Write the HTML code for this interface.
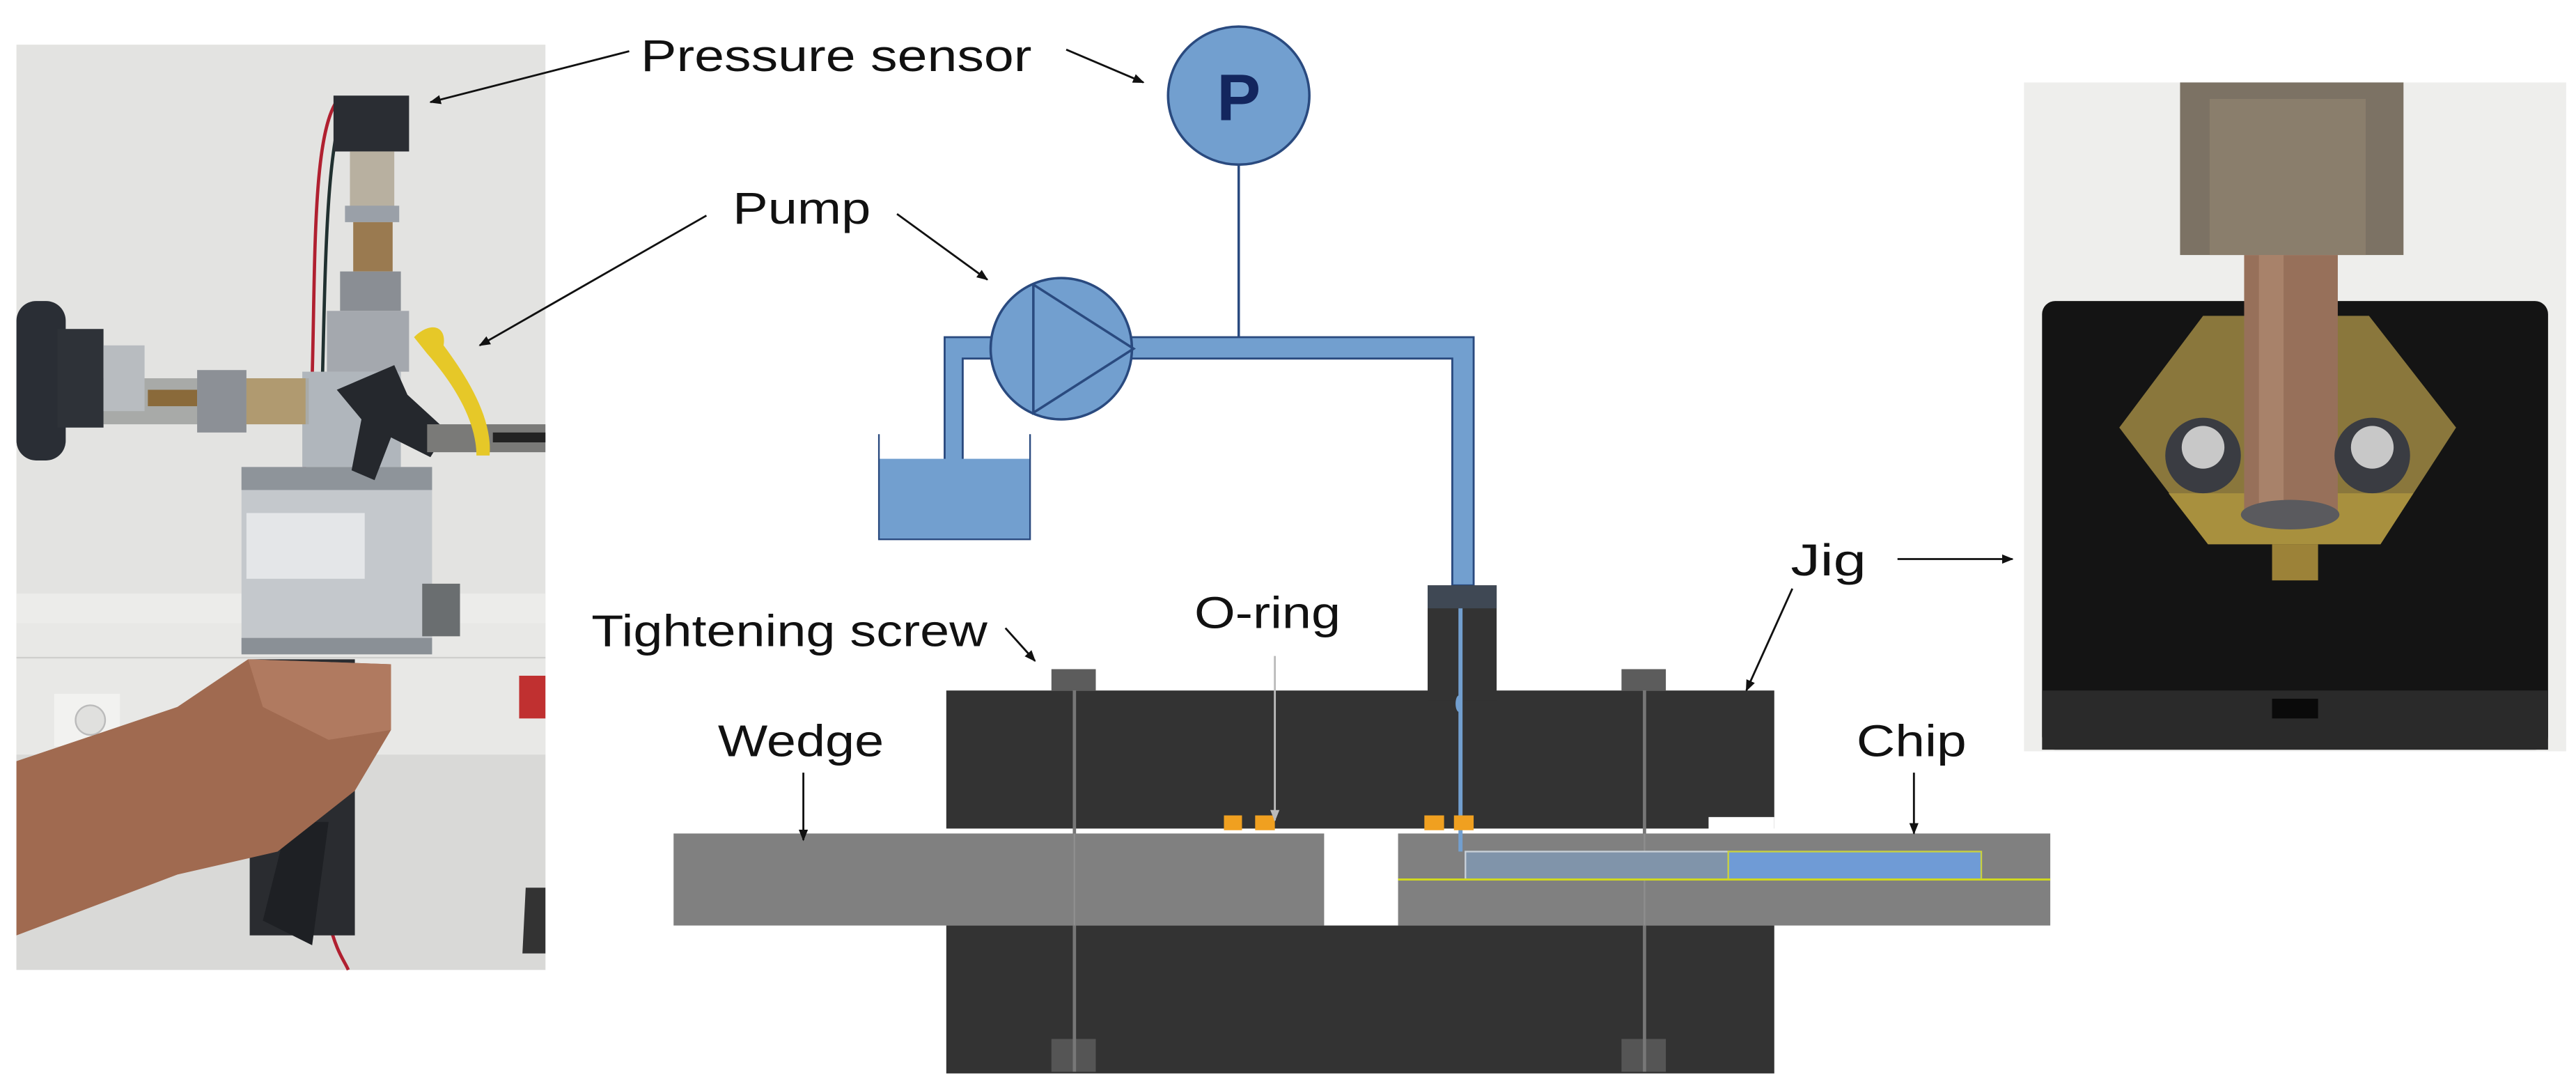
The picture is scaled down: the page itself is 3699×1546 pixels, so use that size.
<!DOCTYPE html>
<html><head><meta charset="utf-8"><style>
html,body{margin:0;padding:0;background:#fff;}
svg{display:block;}
text{font-family:"Liberation Sans",sans-serif;fill:#111;}
</style></head><body>
<svg width="3699" height="1546" viewBox="0 0 1568 655" xmlns="http://www.w3.org/2000/svg">
<defs>
<marker id="ah" viewBox="0 0 10 10" refX="9" refY="5" markerWidth="7" markerHeight="7" orient="auto" markerUnits="userSpaceOnUse"><path d="M0,1 L10,5 L0,9 z" fill="#111"/></marker>
<marker id="ahg" viewBox="0 0 10 10" refX="9" refY="5" markerWidth="7" markerHeight="7" orient="auto" markerUnits="userSpaceOnUse"><path d="M0,1 L10,5 L0,9 z" fill="#bbb"/></marker>
</defs>
<rect width="1568" height="655" fill="#fff"/>

<!-- LEFT PHOTO -->
<g>
<rect x="10" y="27" width="322" height="563" fill="#e3e3e1"/>
<rect x="10" y="361" width="322" height="18" fill="#ececea"/>
<rect x="10" y="379" width="322" height="80" fill="#e8e8e6"/>
<line x1="10" y1="400" x2="332" y2="400" stroke="#cfcfcd" stroke-width="1"/>
<rect x="10" y="459" width="322" height="131" fill="#d9d9d7"/>
<rect x="33" y="422" width="40" height="32" fill="#f2f2f0"/>
<circle cx="55" cy="438" r="9" fill="#e0e0de" stroke="#bbb"/>
<rect x="316" y="411" width="16" height="26" fill="#c03030"/>
<path d="M320,540 h12 v40 h-14 z" fill="#333"/>
<path d="M206,60 C190,80 192,160 190,230 C188,260 180,300 190,330" stroke="#b02030" stroke-width="2" fill="none"/>
<path d="M210,62 C198,90 198,170 196,240" stroke="#203030" stroke-width="2" fill="none"/>
<path d="M200,560 C205,580 210,585 212,590" stroke="#b02030" stroke-width="2" fill="none"/>
<rect x="203" y="58" width="46" height="34" fill="#2a2d33"/>
<rect x="213" y="92" width="27" height="40" fill="#b8b0a0"/>
<rect x="210" y="125" width="33" height="10" fill="#9aa0a8"/>
<rect x="215" y="135" width="24" height="30" fill="#9a7a50"/>
<rect x="207" y="165" width="37" height="24" fill="#8a8e94"/>
<rect x="199" y="189" width="50" height="37" fill="#a4a8ae"/>
<rect x="184" y="226" width="60" height="58" fill="#b0b6bc"/>
<rect x="147" y="284" width="116" height="113" fill="#c4c8cc"/>
<rect x="147" y="284" width="116" height="14" fill="#8e949a"/>
<rect x="150" y="312" width="72" height="40" fill="#e4e6e8"/>
<rect x="147" y="388" width="116" height="10" fill="#8a9096"/>
<rect x="257" y="355" width="23" height="32" fill="#6a6e70"/>
<rect x="63" y="230" width="125" height="28" fill="#a8aaa8"/>
<rect x="90" y="237" width="30" height="10" fill="#8a6a3a"/>
<rect x="120" y="225" width="30" height="38" fill="#8c9096"/>
<rect x="150" y="230" width="36" height="28" fill="#b09a70"/>
<rect x="10" y="183" width="30" height="97" rx="12" fill="#2a2e35"/>
<rect x="35" y="200" width="28" height="60" fill="#2e3238"/>
<rect x="63" y="210" width="25" height="40" fill="#b8bcc0"/>
<path d="M205,237 L240,222 L248,240 L272,262 L262,278 L238,266 L228,292 L214,286 L220,255 z" fill="#25282d"/>
<rect x="260" y="258" width="72" height="17" fill="#7a7a78"/>
<rect x="300" y="263" width="32" height="6" fill="#222"/>
<path d="M252,205 C262,195 272,198 270,210 C285,230 300,255 298,277 L290,277 C290,255 275,232 260,215 z" fill="#e6c828"/>
<rect x="152" y="401" width="64" height="168" fill="#2a2c30"/>
<path d="M160,560 L175,500 L200,500 L190,575 z" fill="#1e2024"/>
<path d="M10,463 L108,430 L151,401 L238,404 L238,444 L216,481 L169,518 L108,532 L10,569 z" fill="#a06a50"/>
<path d="M151,401 L238,404 L238,444 L200,450 L160,430 z" fill="#b07a60"/>
</g>

<!-- RIGHT PHOTO -->
<g>
<rect x="1232" y="50" width="330" height="407" fill="#eeeeec"/>
<rect x="1243" y="183" width="308" height="273" rx="8" fill="#141414"/>
<rect x="1243" y="420" width="308" height="36" fill="#2a2a2a"/>
<rect x="1383" y="425" width="28" height="12" fill="#0a0a0a"/>
<polygon points="1290,260 1341,192 1442,192 1495,260 1449,331 1344,331" fill="#8a773c"/>
<polygon points="1320,300 1469,300 1449,331 1344,331" fill="#a8903e"/>
<rect x="1383" y="331" width="28" height="22" fill="#9c8238"/>
<rect x="1327" y="50" width="136" height="105" fill="#7c7264"/>
<rect x="1345" y="60" width="95" height="95" fill="#8a7e6c"/>
<rect x="1366" y="155" width="57" height="160" fill="#97705a"/>
<rect x="1375" y="155" width="15" height="160" fill="#a8826a"/>
<ellipse cx="1394" cy="313" rx="30" ry="9" fill="#5a5a5e"/>
<circle cx="1341" cy="277" r="23" fill="#3a3c42"/>
<circle cx="1341" cy="272" r="13" fill="#c8c8c8"/>
<circle cx="1444" cy="277" r="23" fill="#3a3c42"/>
<circle cx="1444" cy="272" r="13" fill="#c8c8c8"/>
</g>

<!-- SCHEMATIC -->
<path d="M575,205 H897 V356 H884 V218 H586 V287 H575 Z" fill="#729fcf" stroke="#2a4a7f" stroke-width="1.2"/>
<line x1="754" y1="100" x2="754" y2="205" stroke="#2a4a7f" stroke-width="1.5"/>
<rect x="535" y="279" width="92" height="49" fill="#729fcf"/>
<polyline points="535,264 535,328 627,328 627,264" fill="none" stroke="#2a4a7f" stroke-width="1"/>
<ellipse cx="754" cy="58" rx="43" ry="42" fill="#729fcf" stroke="#2a4a7f" stroke-width="1.5"/>
<text x="754" y="73" text-anchor="middle" font-size="40" font-weight="bold" style="fill:#13265e">P</text>
<ellipse cx="646" cy="212" rx="43" ry="43" fill="#729fcf" stroke="#2a4a7f" stroke-width="1.5"/>
<polyline points="629,173 629,251 690,212 629,173" fill="none" stroke="#2a4a7f" stroke-width="1.5"/>

<rect x="576" y="420" width="504" height="84" fill="#333333"/>
<rect x="1040" y="497" width="40" height="8" fill="#fff"/>
<rect x="869" y="356" width="42" height="70" fill="#333333"/>
<rect x="869" y="356" width="42" height="14" fill="#3f4854"/>
<rect x="576" y="563" width="504" height="90" fill="#333333"/>
<rect x="640" y="407" width="27" height="13" fill="#5c5c5c"/>
<rect x="987" y="407" width="27" height="13" fill="#5c5c5c"/>
<rect x="640" y="632" width="27" height="20" fill="#555"/>
<rect x="987" y="632" width="27" height="20" fill="#555"/>
<line x1="654" y1="420" x2="654" y2="652" stroke="#777" stroke-width="2"/>
<line x1="1001" y1="420" x2="1001" y2="652" stroke="#777" stroke-width="2"/>
<rect x="410" y="507" width="396" height="56" fill="#808080"/>
<rect x="851" y="507" width="397" height="56" fill="#808080"/>
<line x1="654" y1="507" x2="654" y2="563" stroke="#8e8e8e" stroke-width="1"/>
<line x1="1001" y1="507" x2="1001" y2="563" stroke="#8e8e8e" stroke-width="1"/>
<rect x="892" y="518" width="160" height="17" fill="#8094aa" stroke="#c8d0d8" stroke-width="1"/>
<rect x="1052" y="518" width="154" height="17" fill="#6f9bd6" stroke="#c8d040" stroke-width="1"/>
<line x1="851" y1="535" x2="1248" y2="535" stroke="#d0d820" stroke-width="1.3"/>
<line x1="889" y1="370" x2="889" y2="518" stroke="#729fcf" stroke-width="2.5"/>
<ellipse cx="888" cy="428" rx="2" ry="5" fill="#729fcf"/>
<rect x="745" y="496" width="11" height="9" fill="#f0a020"/>
<rect x="764" y="496" width="12" height="9" fill="#f0a020"/>
<rect x="867" y="496" width="12" height="9" fill="#f0a020"/>
<rect x="885" y="496" width="12" height="9" fill="#f0a020"/>

<text x="390" y="43" font-size="27" textLength="238" lengthAdjust="spacingAndGlyphs">Pressure sensor</text>
<text x="446" y="136" font-size="27" textLength="84" lengthAdjust="spacingAndGlyphs">Pump</text>
<text x="360" y="393" font-size="27" textLength="241" lengthAdjust="spacingAndGlyphs">Tightening screw</text>
<text x="727" y="382" font-size="27" textLength="89" lengthAdjust="spacingAndGlyphs">O-ring</text>
<text x="437" y="460" font-size="27" textLength="101" lengthAdjust="spacingAndGlyphs">Wedge</text>
<text x="1130" y="460" font-size="27" textLength="67" lengthAdjust="spacingAndGlyphs">Chip</text>
<text x="1090" y="350" font-size="27" textLength="46" lengthAdjust="spacingAndGlyphs">Jig</text>

<g stroke="#111" stroke-width="1.2" fill="none">
<line x1="383" y1="31" x2="262" y2="62" marker-end="url(#ah)"/>
<line x1="649" y1="30" x2="696" y2="50" marker-end="url(#ah)"/>
<line x1="430" y1="131" x2="292" y2="210" marker-end="url(#ah)"/>
<line x1="546" y1="130" x2="601" y2="170" marker-end="url(#ah)"/>
<line x1="612" y1="382" x2="630" y2="402" marker-end="url(#ah)"/>
<line x1="489" y1="470" x2="489" y2="511" marker-end="url(#ah)"/>
<line x1="1165" y1="470" x2="1165" y2="507" marker-end="url(#ah)"/>
<line x1="1091" y1="358" x2="1063" y2="420" marker-end="url(#ah)"/>
<line x1="1155" y1="340" x2="1225" y2="340" marker-end="url(#ah)"/>
</g>
<line x1="776" y1="399" x2="776" y2="499" stroke="#bbb" stroke-width="1.2" marker-end="url(#ahg)"/>
</svg>
</body></html>
